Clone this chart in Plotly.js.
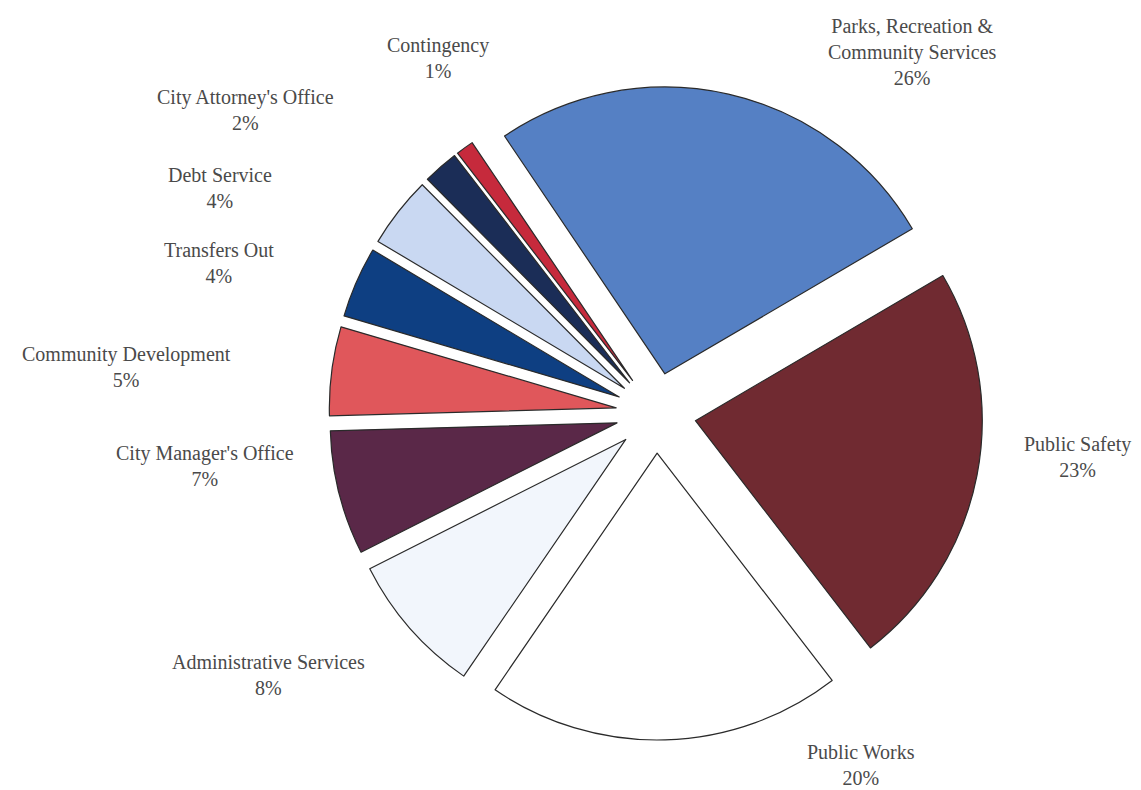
<!DOCTYPE html>
<html>
<head>
<meta charset="utf-8">
<script src="https://cdn.plot.ly/plotly-3.0.1.min.js"></script>
<style>html,body{margin:0;padding:0;background:#fff;}#chart{width:1141px;height:790px;}</style>
</head>
<body>
<div id="chart"></div>
<script>
// Data
var categories = [
  "Parks, Recreation &<br>Community Services",
  "Public Safety",
  "Public Works",
  "Administrative Services",
  "City Manager's Office",
  "Community Development",
  "Transfers Out",
  "Debt Service",
  "City Attorney's Office",
  "Contingency"
];
var percentValues = [26, 23, 20, 8, 7, 5, 4, 4, 2, 1];
var sliceColors = ["#5580C4", "#702A31", "#FFFFFF", "#F2F6FC", "#5A2848", "#E0575B", "#0E3F82", "#C9D8F2", "#1B2D57", "#C62A3C"];
// label block centre positions in pixels (style)
var labelPx = [
  [912, 52], [1077, 457], [861, 765], [268, 675], [205, 466],
  [126, 367], [219, 263], [220, 188], [245, 110], [438, 58]
];

var W = 1141, H = 790;
var M = {l: 212, r: 41, t: 86, b: 50};
var pw = W - M.l - M.r, ph = H - M.t - M.b;

var annotations = categories.map(function (c, i) {
  return {
    text: c + "<br>" + percentValues[i] + "%",
    xref: "paper", yref: "paper",
    x: (labelPx[i][0] - M.l) / pw,
    y: 1 - (labelPx[i][1] - M.t) / ph,
    xanchor: "center", yanchor: "middle",
    showarrow: false,
    align: "center",
    font: {family: "Liberation Serif, Times New Roman, serif", size: 20, color: "#4a4a4a"}
  };
});

var trace = {
  type: "pie",
  labels: categories,
  values: percentValues,
  sort: false,
  direction: "clockwise",
  rotation: -34,
  pull: percentValues.map(function () { return 0.14; }),
  marker: {colors: sliceColors, line: {color: "#2a2a2a", width: 1.2}},
  textinfo: "none",
  hoverinfo: "skip",
  domain: {x: [0, 1], y: [0, 1]}
};

var layout = {
  width: W, height: H,
  margin: M,
  showlegend: false,
  paper_bgcolor: "#ffffff",
  plot_bgcolor: "#ffffff",
  annotations: annotations
};

Plotly.newPlot("chart", [trace], layout, {staticPlot: true, displayModeBar: false});
</script>
</body>
</html>
